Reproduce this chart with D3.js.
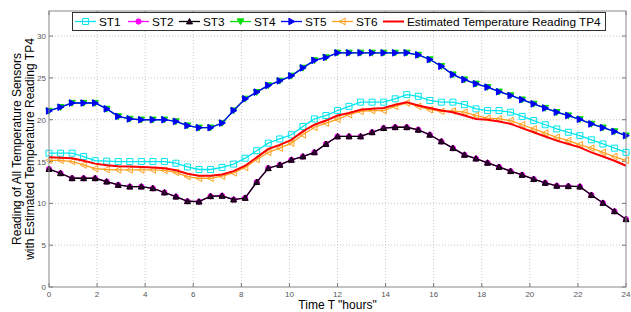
<!DOCTYPE html>
<html>
<head>
<meta charset="utf-8">
<script src="https://cdn.jsdelivr.net/npm/d3@7"></script>
<style>
  body { margin: 0; background: #fff; }
  svg { font-family: "Liberation Sans", Arial, sans-serif; }
  .grid line { stroke: #c8c8c8; stroke-dasharray: 1,2; }
  .tick_label { font-size: 8px; fill: #555; }
  .axis_title { font-size: 12px; fill: #000; }
  .legend_text { font-size: 11.8px; fill: #000; }
</style>
</head>
<body>
<div id="chart"></div>
<script>
// time axis (hours)
var hours = [0, 0.48, 0.96, 1.44, 1.92, 2.4, 2.88, 3.36, 3.84, 4.32, 4.8, 5.28, 5.76, 6.24, 6.72, 7.2, 7.68,
    8.16, 8.64, 9.12, 9.6, 10.08, 10.56, 11.04, 11.52, 12, 12.48, 12.96, 13.44, 13.92, 14.4, 14.88, 15.36,
    15.84, 16.32, 16.8, 17.28, 17.76, 18.24, 18.72, 19.2, 19.68, 20.16, 20.64, 21.12, 21.6, 22.08, 22.56,
    23.04, 23.52, 24];

var st1 = [16, 16, 16, 15.6, 15.1, 15.05, 15, 15, 15, 15, 15, 14.8, 14.35, 14.05, 14.05, 14.3, 14.7, 15.4,
    16.3, 17.2, 17.7, 18.2, 19.2, 20.1, 20.5, 21.1, 21.6, 22.1, 22.1, 22.1, 22.5, 23.0, 22.8, 22.3, 22.1,
    22.1, 21.8, 21.3, 21.1, 21.1, 20.9, 20.4, 19.9, 19.4, 18.9, 18.5, 18.1, 17.6, 17.1, 16.6, 16.1];

var st2 = [14.1, 13.6, 13.0, 13.0, 13.0, 12.6, 12.2, 12.0, 12.0, 11.8, 11.3, 10.8, 10.25, 10.2, 10.85, 10.9,
    10.45, 10.65, 12.55, 14.2, 14.6, 15.2, 15.6, 16.1, 17.1, 18.0, 18.0, 18.0, 18.5, 19.0, 19.1, 19.1, 18.8,
    18.2, 17.4, 16.6, 15.8, 15.35, 14.85, 14.35, 13.85, 13.4, 12.9, 12.45, 12.1, 12.05, 12.0, 11.0, 10.05,
    9.05, 8.1];

var st3 = [14.1, 13.6, 13.0, 13.0, 13.0, 12.6, 12.2, 12.0, 12.0, 11.8, 11.3, 10.8, 10.25, 10.2, 10.85, 10.9,
    10.45, 10.65, 12.55, 14.2, 14.6, 15.2, 15.6, 16.1, 17.1, 18.0, 18.0, 18.0, 18.5, 19.0, 19.1, 19.1, 18.8,
    18.2, 17.4, 16.6, 15.8, 15.35, 14.85, 14.35, 13.85, 13.4, 12.9, 12.45, 12.1, 12.05, 12.0, 11.0, 10.05,
    9.05, 8.1];

var st4 = [21.05, 21.5, 22, 22, 22, 21.3, 20.4, 20.1, 20, 20, 20, 19.8, 19.3, 19.05, 19.05, 19.6, 21.1, 22.5,
    23.3, 24.1, 24.65, 25.25, 26.2, 27.1, 27.45, 28, 28, 28, 28, 28, 28, 28, 27.75, 27.2, 26.4, 25.4, 24.8,
    24.3, 23.9, 23.35, 22.9, 22.4, 21.9, 21.4, 20.9, 20.5, 20.05, 19.5, 19.05, 18.6, 18.1];

var st5 = [21.05, 21.5, 22, 22, 22, 21.3, 20.4, 20.1, 20, 20, 20, 19.8, 19.3, 19.05, 19.05, 19.6, 21.1, 22.5,
    23.3, 24.1, 24.65, 25.25, 26.2, 27.1, 27.45, 28, 28, 28, 28, 28, 28, 28, 27.75, 27.2, 26.4, 25.4, 24.8,
    24.3, 23.9, 23.35, 22.9, 22.4, 21.9, 21.4, 20.9, 20.5, 20.05, 19.5, 19.05, 18.6, 18.1];

var st6 = [15.15, 15.15, 15.0, 14.6, 14.15, 14.05, 14.0, 14.0, 14.0, 14.0, 13.95, 13.7, 13.2, 13.0, 13.0,
    13.25, 13.65, 14.3, 15.25, 16.1, 16.6, 17.2, 18.2, 19.1, 19.6, 20.05, 20.6, 21.0, 21.1, 21.1, 21.6, 22.0,
    21.6, 21.2, 21.0, 21.05, 20.9, 20.5, 20.2, 20.1, 19.9, 19.4, 18.9, 18.4, 17.9, 17.5, 17.0, 16.6, 16.1,
    15.6, 15.15];

var tp4 = [15.5, 15.45, 15.4, 15.1, 14.75, 14.55, 14.45, 14.4, 14.35, 14.3, 14.2, 13.95, 13.55, 13.3, 13.3,
    13.45, 13.85, 14.5, 15.5, 16.5, 17.0, 17.6, 18.6, 19.4, 19.9, 20.5, 20.8, 21.2, 21.3, 21.4, 21.8, 22.1,
    21.7, 21.4, 21.1, 20.9, 20.5, 20.1, 20.0, 19.8, 19.5, 19.0, 18.5, 18.0, 17.5, 17.1, 16.7, 16.1, 15.6,
    15.1, 14.5];

var x_ticks = [0, 2, 4, 6, 8, 10, 12, 14, 16, 18, 20, 22, 24];
var y_ticks = [0, 5, 10, 15, 20, 25, 30];

var series_names = ["ST1", "ST2", "ST3", "ST4", "ST5", "ST6", "Estimated Temperature Reading TP4"];

var width = 631, height = 312;
var margin = { left: 49, right: 5, top: 11, bottom: 25 };

var svg = d3.select("#chart")
    .append("svg")
    .attr("width", width)
    .attr("height", height);

var x = d3.scaleLinear().domain([0, 24]).range([margin.left, width - margin.right]);
var y = d3.scaleLinear().domain([0, 33]).range([height - margin.bottom, margin.top]);

// grid
var grid = svg.append("g").attr("class", "grid");
grid.selectAll(".gx")
    .data(x_ticks.slice(1, -1))
    .enter()
    .append("line")
    .attr("x1", d => x(d)).attr("x2", d => x(d))
    .attr("y1", y(0)).attr("y2", y(33));
grid.selectAll(".gy")
    .data(y_ticks.slice(1))
    .enter()
    .append("line")
    .attr("x1", x(0)).attr("x2", x(24))
    .attr("y1", d => y(d)).attr("y2", d => y(d));

// inside tick marks on all four sides
var ticks = svg.append("g").attr("stroke", "#555").attr("stroke-width", 0.8);
x_ticks.forEach(function (d) {
    ticks.append("line").attr("x1", x(d)).attr("x2", x(d)).attr("y1", y(0)).attr("y2", y(0) - 4);
    ticks.append("line").attr("x1", x(d)).attr("x2", x(d)).attr("y1", y(33)).attr("y2", y(33) + 4);
});
y_ticks.forEach(function (d) {
    ticks.append("line").attr("x1", x(0)).attr("x2", x(0) + 4).attr("y1", y(d)).attr("y2", y(d));
    ticks.append("line").attr("x1", x(24)).attr("x2", x(24) - 4).attr("y1", y(d)).attr("y2", y(d));
});

// tick labels
svg.append("g").selectAll("text")
    .data(x_ticks)
    .enter()
    .append("text")
    .attr("class", "tick_label")
    .attr("x", d => x(d))
    .attr("y", y(0) + 10)
    .attr("text-anchor", "middle")
    .text(d => d);

svg.append("g").selectAll("text")
    .data(y_ticks)
    .enter()
    .append("text")
    .attr("class", "tick_label")
    .attr("x", x(0) - 3)
    .attr("y", d => y(d) + 3)
    .attr("text-anchor", "end")
    .text(d => d);

// marker shapes
function tri(dir, s) {
    // triangle pointing up/down/left/right, s = half size
    var p;
    if (dir === "up") p = [[0, -s], [s, s * 0.8], [-s, s * 0.8]];
    if (dir === "down") p = [[0, s], [s, -s * 0.8], [-s, -s * 0.8]];
    if (dir === "right") p = [[s, 0], [-s * 0.8, s], [-s * 0.8, -s]];
    if (dir === "left") p = [[-s, 0], [s * 0.8, s], [s * 0.8, -s]];
    return "M" + p.map(d => d.join(",")).join("L") + "Z";
}

var series = [
    { name: series_names[3], values: st4, color: "#00dd00", marker: tri("down", 3.3), fill: "#00dd00", w: 1.3 },
    { name: series_names[4], values: st5, color: "#0000ff", marker: tri("right", 3.3), fill: "#0000ee", w: 1.3 },
    { name: series_names[0], values: st1, color: "#00e6ee", marker: "M-3,-3H3V3H-3Z", fill: "none", w: 1.3 },
    { name: series_names[5], values: st6, color: "#ffa020", marker: tri("left", 3.3), fill: "none", w: 1.3 },
    { name: series_names[1], values: st2, color: "#ff00ff", marker: d3.symbol().type(d3.symbolCircle).size(22)(), fill: "#ff00ff", w: 1.3 },
    { name: series_names[2], values: st3, color: "#000000", marker: tri("up", 3), fill: "#330033", w: 1.3 },
    { name: series_names[6], values: tp4, color: "#ff0000", marker: null, fill: "none", w: 2 }
];

var line = d3.line()
    .x(d => x(d[0]))
    .y(d => y(d[1]));

series.forEach(function (s) {
    var pts = hours.map((h, i) => [h, s.values[i]]);
    var g = svg.append("g");
    g.append("path")
        .attr("d", line(pts))
        .attr("fill", "none")
        .attr("stroke", s.color)
        .attr("stroke-width", s.w);
    if (s.marker) {
        g.selectAll("path.m")
            .data(pts)
            .enter()
            .append("path")
            .attr("class", "m")
            .attr("d", s.marker)
            .attr("transform", d => "translate(" + x(d[0]) + "," + y(d[1]) + ")")
            .attr("fill", s.fill)
            .attr("stroke", s.color)
            .attr("stroke-width", 1);
    }
});

// plot box
svg.append("rect")
    .attr("x", x(0)).attr("y", y(33))
    .attr("width", x(24) - x(0)).attr("height", y(0) - y(33))
    .attr("fill", "none")
    .attr("stroke", "#888")
    .attr("stroke-width", 1);

// legend
var legend_items = [
    { s: series[2], tx: 99 },
    { s: series[4], tx: 152 },
    { s: series[5], tx: 203 },
    { s: series[0], tx: 254 },
    { s: series[1], tx: 305 },
    { s: series[3], tx: 356 },
    { s: series[6], tx: 407 }
];

var legend = svg.append("g");
legend.append("rect")
    .attr("x", 72.5).attr("y", 12.5)
    .attr("width", 533).attr("height", 18)
    .attr("fill", "#fff")
    .attr("stroke", "#333")
    .attr("stroke-width", 1);

legend_items.forEach(function (d) {
    var ly = 21.5;
    var x0 = d.tx - 24;
    var x1 = d.tx - 3;
    legend.append("line")
        .attr("x1", x0).attr("x2", x1)
        .attr("y1", ly).attr("y2", ly)
        .attr("stroke", d.s.color)
        .attr("stroke-width", d.s.w);
    if (d.s.marker) {
        legend.append("path")
            .attr("d", d.s.marker)
            .attr("transform", "translate(" + ((x0 + x1) / 2) + "," + ly + ")")
            .attr("fill", d.s.fill)
            .attr("stroke", d.s.color)
            .attr("stroke-width", 1);
    }
    legend.append("text")
        .attr("class", "legend_text")
        .attr("x", d.tx)
        .attr("y", ly + 4.3)
        .text(d.s.name);
});

// axis titles
svg.append("text")
    .attr("class", "axis_title")
    .attr("x", x(12))
    .attr("y", 309)
    .attr("text-anchor", "middle")
    .text('Time T "hours"');

var yt = svg.append("text")
    .attr("class", "axis_title")
    .attr("transform", "translate(20.5," + ((y(0) + y(33)) / 2) + ") rotate(-90)")
    .attr("text-anchor", "middle");
yt.append("tspan").attr("x", 0).attr("dy", 0).text("Reading of All Temperature Sensors");
yt.append("tspan").attr("x", 0).attr("dy", 13).text("with Estimated Temperature Reading TP4");
</script>
</body>
</html>
